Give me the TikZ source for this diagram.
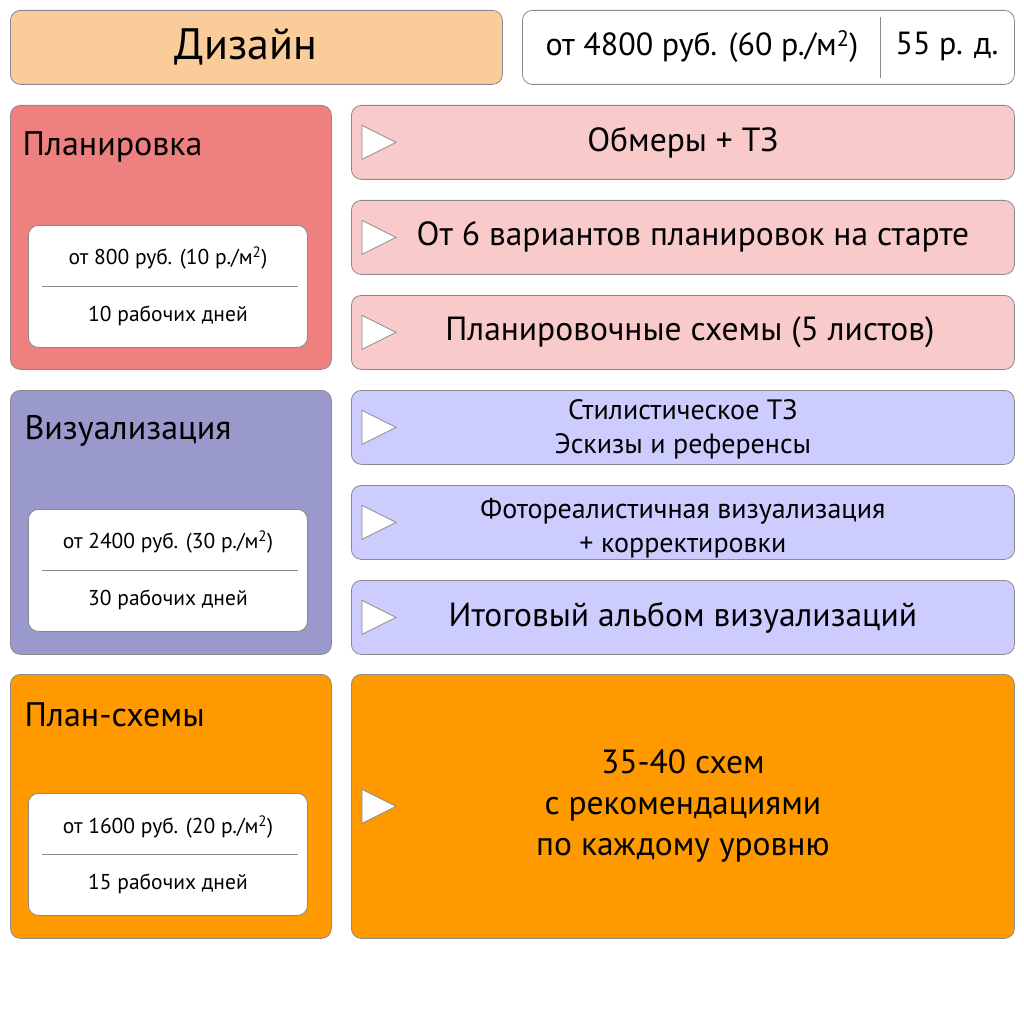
\documentclass[tikz,border=0pt]{standalone}
\usepackage{fontspec}
\setmainfont{PT Sans}
\usetikzlibrary{positioning}

\definecolor{peach}{HTML}{F9CC9A}
\definecolor{salmon}{HTML}{EF8080}
\definecolor{pinklight}{HTML}{F9CACA}
\definecolor{violet}{HTML}{9999CC}
\definecolor{lavender}{HTML}{CCCCFF}
\definecolor{orangebox}{HTML}{FF9900}
\definecolor{edge}{HTML}{8A8A8A}

\tikzset{
  box/.style={draw=edge, line width=0.8pt, rounded corners=10pt, anchor=north west, inner sep=0pt, align=center},
  stagebox/.style={box, minimum width=321pt, minimum height=264pt},
  stepbox/.style={box, minimum width=663pt, minimum height=74pt},
  pricebox/.style={box, fill=white, minimum width=279pt, minimum height=122pt},
  tri/.style={draw=edge, fill=white, line width=0.8pt, line join=miter},
  sep/.style={draw=edge, line width=0.9pt},
  titletext/.style={font=\fontsize{34}{40}\selectfont, anchor=west},
  smalltext/.style={font=\fontsize{21.5}{26}\selectfont},
  steptext/.style={font=\fontsize{33.5}{40}\selectfont},
  twotext/.style={font=\fontsize{28}{34}\selectfont, align=center},
}

\newcommand{\arrowmark}[1]{%
  \draw[tri] ([xshift=11pt, yshift=17pt]#1.west) -- ([xshift=45pt]#1.west) -- ([xshift=11pt, yshift=-17pt]#1.west) -- cycle;}

\begin{document}
\begin{tikzpicture}[x=1pt, y=1pt]
    \useasboundingbox[fill=white] (0,0) rectangle (1024,-1024);

    % header
    \node[box, fill=peach, minimum width=492pt, minimum height=74pt] (design) at (10,-10) {};
    \node[font=\fontsize{44}{50}\selectfont] (designtitle) at (246,-47) {Дизайн};
    \node[box, fill=white, minimum width=492pt, minimum height=74pt] (total) at (522,-10) {};
    \node[font=\fontsize{32}{38}\selectfont] (totalprice) at (702,-47) {от 4800 руб. (60 р./м\textsuperscript{2})};
    \node[font=\fontsize{32}{38}\selectfont] (totaldays) at (947,-47) {55 р. д.};
    \coordinate (divtop) at (880,-17);
    \coordinate (divbot) at (880,-78);
    \draw[sep] (divtop) -- (divbot);

    % stage 1: planning
    \node[stagebox, fill=salmon] (plan) at (10,-105) {};
    \node[titletext] (plantitle) at (19,-147) {Планировка};
    \node[pricebox] (planprice) at (28,-225) {};
    \node[smalltext] (plancost) at (168,-258) {от 800 руб. (10 р./м\textsuperscript{2})};
    \node[smalltext] (plandays) at (168,-316) {10 рабочих дней};
    \draw[sep] ([xshift=14pt]planprice.west) -- ([xshift=-10pt]planprice.east);

    \node[stepbox, fill=pinklight, steptext] (measure) at (351,-105) {Обмеры + ТЗ};
    \node[stepbox, fill=pinklight, steptext] (variants) at (351,-200) {\hspace*{20pt}От 6 вариантов планировок на старте};
    \node[stepbox, fill=pinklight, steptext] (schemes) at (351,-295) {\hspace*{14pt}Планировочные схемы (5 листов)};
    \arrowmark{measure}
    \arrowmark{variants}
    \arrowmark{schemes}

    % stage 2: visualisation
    \node[stagebox, fill=violet] (visual) at (10,-390) {};
    \node[titletext] (visualtitle) at (21,-431) {Визуализация};
    \node[pricebox] (visualprice) at (28,-509) {};
    \node[smalltext] (visualcost) at (168,-542) {от 2400 руб. (30 р./м\textsuperscript{2})};
    \node[smalltext] (visualdays) at (168,-600) {30 рабочих дней};
    \draw[sep] ([xshift=14pt]visualprice.west) -- ([xshift=-10pt]visualprice.east);

    \node[stepbox, fill=lavender] (style) at (351,-390) {};
    \node[twotext] (styletext) at ([yshift=-2pt]style.center) {Стилистическое ТЗ\\Эскизы и референсы};
    \node[stepbox, fill=lavender] (render) at (351,-485) {};
    \node[twotext] (rendertext) at ([yshift=-6pt]render.center) {Фотореалистичная визуализация\\+ корректировки};
    \node[stepbox, fill=lavender, steptext] (album) at (351,-580) {Итоговый альбом визуализаций};
    \arrowmark{style}
    \arrowmark{render}
    \arrowmark{album}

    % stage 3: plan schemes
    \node[stagebox, fill=orangebox] (scheme) at (10,-674) {};
    \node[titletext] (schemetitle) at (21,-715) {План-схемы};
    \node[pricebox] (schemeprice) at (28,-793) {};
    \node[smalltext] (schemecost) at (168,-827) {от 1600 руб. (20 р./м\textsuperscript{2})};
    \node[smalltext] (schemedays) at (168,-884) {15 рабочих дней};
    \draw[sep] ([xshift=14pt]schemeprice.west) -- ([xshift=-10pt]schemeprice.east);

    \node[box, fill=orangebox, minimum width=663pt, minimum height=264pt, font=\fontsize{33.5}{41}\selectfont] (advice) at (351,-674) {35-40 схем\\с рекомендациями\\по каждому уровню};
    \arrowmark{advice}
\end{tikzpicture}
\end{document}
